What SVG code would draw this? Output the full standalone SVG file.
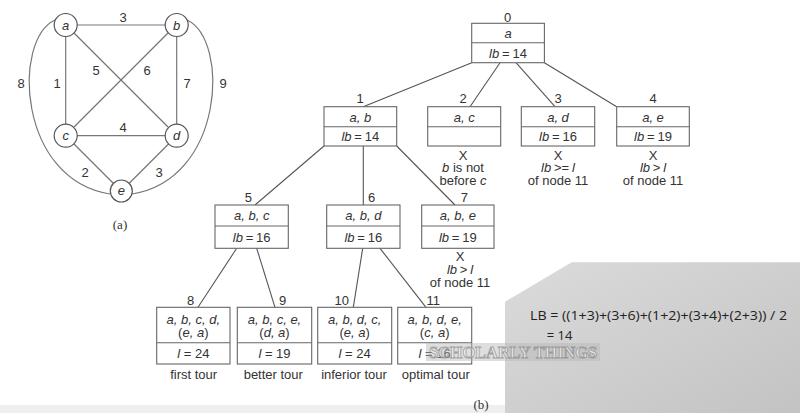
<svg xmlns="http://www.w3.org/2000/svg" width="800" height="413" viewBox="0 0 800 413">
<defs>
<linearGradient id="pg" x1="0" y1="0" x2="1" y2="1">
<stop offset="0" stop-color="#dbdbdb"/>
<stop offset="1" stop-color="#c3c3c3"/>
</linearGradient>
</defs>
<style>
.t{font-family:"Liberation Sans",Arial,sans-serif;font-size:13px;fill:#333;text-anchor:middle}
.i{font-style:italic}
.w{word-spacing:-0.8px}
.e{stroke:#777;stroke-width:1.2;fill:none}
.v{fill:#fff;stroke:#555;stroke-width:1.2}
.b{fill:#fff;stroke:#666;stroke-width:1.1}
.d{stroke:#666;stroke-width:1.1}
.c{stroke:#555;stroke-width:1.1;fill:none}
.s{font-family:"Liberation Serif","Times New Roman",serif;font-size:13px;fill:#333;text-anchor:middle}
</style>
<rect width="800" height="413" fill="#fff"/>
<rect x="0" y="405" width="505" height="8" fill="#efefef"/>
<!-- graph (a) -->
<g id="graph-edges">
<line class="e" x1="77" y1="25" x2="165" y2="25"/>
<line class="e" x1="65.7" y1="36" x2="65.7" y2="125"/>
<line class="e" x1="176.7" y1="36" x2="176.7" y2="125"/>
<line class="e" x1="77" y1="135.7" x2="165" y2="135.7"/>
<line class="e" x1="74" y1="33" x2="168" y2="127"/>
<line class="e" x1="168" y1="33" x2="74" y2="127"/>
<line class="e" x1="73.5" y1="143.5" x2="113.5" y2="183.5"/>
<line class="e" x1="169" y1="143.5" x2="129" y2="183.5"/>
<path class="e" d="M55,20 C12,40 18,180 110,194"/>
<path class="e" d="M187,20 C230,40 224,180 132,194"/>
</g>
<g id="graph-labels">
<text class="t" x="123" y="21.5">3</text>
<text class="t" x="96" y="74.5">5</text>
<text class="t" x="147" y="74.5">6</text>
<text class="t" x="57" y="87.5">1</text>
<text class="t" x="187" y="87.5">7</text>
<text class="t" x="21" y="87.5">8</text>
<text class="t" x="223" y="87.5">9</text>
<text class="t" x="123" y="131.5">4</text>
<text class="t" x="85" y="176.5">2</text>
<text class="t" x="159" y="176.5">3</text>
</g>
<g id="va"><circle class="v" cx="65.7" cy="25" r="11.5"/><text class="t i" x="65.7" y="29.5">a</text></g>
<g id="vb"><circle class="v" cx="176.7" cy="25" r="11.5"/><text class="t i" x="176.7" y="29.5">b</text></g>
<g id="vc"><circle class="v" cx="65.7" cy="135.7" r="11.5"/><text class="t i" x="65.7" y="140">c</text></g>
<g id="vd"><circle class="v" cx="176.7" cy="135.7" r="11.5"/><text class="t i" x="176.7" y="140">d</text></g>
<g id="ve"><circle class="v" cx="121.3" cy="191" r="11"/><text class="t i" x="121.3" y="195">e</text></g>
<text class="s" x="120" y="229">(a)</text>
<!-- tree connectors -->
<g id="tree-connectors">
<line class="c" x1="471.7" y1="62.7" x2="363.3" y2="106.7"/>
<line class="c" x1="500" y1="62.7" x2="470" y2="106.7"/>
<line class="c" x1="516" y1="62.7" x2="555" y2="106.7"/>
<line class="c" x1="544.4" y1="62.7" x2="616.7" y2="106.7"/>
<line class="c" x1="324" y1="146" x2="255" y2="205"/>
<line class="c" x1="363.3" y1="146" x2="363.3" y2="205"/>
<line class="c" x1="396.7" y1="146" x2="455" y2="205"/>
<line class="c" x1="236.7" y1="248.3" x2="198" y2="307.3"/>
<line class="c" x1="256.7" y1="248.3" x2="275" y2="307.3"/>
<line class="c" x1="362.7" y1="248.3" x2="353.3" y2="307.3"/>
<line class="c" x1="380" y1="248.3" x2="426" y2="307.3"/>
</g>
<!-- tree nodes -->
<g id="n0">
<text class="t" x="507.7" y="21.5">0</text>
<rect class="b" x="471.7" y="23.3" width="72.7" height="39.4"/>
<line class="d" x1="471.7" y1="42.7" x2="544.4" y2="42.7"/>
<text class="t i" x="508" y="38">a</text>
<text class="t w" x="508" y="58"><tspan class="i">lb</tspan> = 14</text>
</g>
<g id="n1">
<text class="t" x="360" y="102.5">1</text>
<rect class="b" x="324" y="106.7" width="72.7" height="39.3"/>
<line class="d" x1="324" y1="126.7" x2="396.7" y2="126.7"/>
<text class="t i" x="360.3" y="121.5">a, b</text>
<text class="t w" x="360.3" y="141"><tspan class="i">lb</tspan> = 14</text>
</g>
<g id="n2">
<text class="t" x="463" y="102.5">2</text>
<rect class="b" x="427.7" y="106.7" width="73" height="39.3"/>
<line class="d" x1="427.7" y1="126.7" x2="500.7" y2="126.7"/>
<text class="t i" x="464.2" y="121.5">a, c</text>
<text class="t" x="463" y="159.5">X</text>
<text class="t" x="463" y="172"><tspan class="i">b</tspan> is not</text>
<text class="t" x="463" y="185">before <tspan class="i">c</tspan></text>
</g>
<g id="n3">
<text class="t" x="558" y="102.5">3</text>
<rect class="b" x="521.3" y="106.7" width="73.4" height="39.3"/>
<line class="d" x1="521.3" y1="126.7" x2="594.7" y2="126.7"/>
<text class="t i" x="558" y="121.5">a, d</text>
<text class="t w" x="558" y="141"><tspan class="i">lb</tspan> = 16</text>
<text class="t" x="558" y="159.5">X</text>
<text class="t w" x="558" y="172"><tspan class="i">lb</tspan> &gt;= <tspan class="i">l</tspan></text>
<text class="t" x="558" y="185">of node 11</text>
</g>
<g id="n4">
<text class="t" x="653" y="102.5">4</text>
<rect class="b" x="616.7" y="106.7" width="72.6" height="39.3"/>
<line class="d" x1="616.7" y1="126.7" x2="689.3" y2="126.7"/>
<text class="t i" x="653" y="121.5">a, e</text>
<text class="t w" x="653" y="141"><tspan class="i">lb</tspan> = 19</text>
<text class="t" x="653" y="159.5">X</text>
<text class="t w" x="653" y="172"><tspan class="i">lb</tspan> &gt; <tspan class="i">l</tspan></text>
<text class="t" x="653" y="185">of node 11</text>
</g>
<g id="n5">
<text class="t" x="248.3" y="201.5">5</text>
<rect class="b" x="215" y="205" width="73.3" height="43.3"/>
<line class="d" x1="215" y1="226" x2="288.3" y2="226"/>
<text class="t i" x="251.7" y="220">a, b, c</text>
<text class="t w" x="251.7" y="241.5"><tspan class="i">lb</tspan> = 16</text>
</g>
<g id="n6">
<text class="t" x="371.7" y="201.5">6</text>
<rect class="b" x="326.7" y="205" width="73.3" height="43.3"/>
<line class="d" x1="326.7" y1="226" x2="400" y2="226"/>
<text class="t i" x="363.3" y="220">a, b, d</text>
<text class="t w" x="363.3" y="241.5"><tspan class="i">lb</tspan> = 16</text>
</g>
<g id="n7">
<text class="t" x="464.3" y="201.5">7</text>
<rect class="b" x="421.7" y="205" width="72.3" height="43.3"/>
<line class="d" x1="421.7" y1="226" x2="494" y2="226"/>
<text class="t i" x="457.8" y="220">a, b, e</text>
<text class="t w" x="457.8" y="241.5"><tspan class="i">lb</tspan> = 19</text>
<text class="t" x="460" y="260.5">X</text>
<text class="t w" x="460" y="273.5"><tspan class="i">lb</tspan> &gt; <tspan class="i">l</tspan></text>
<text class="t" x="460" y="286.5">of node 11</text>
</g>
<g id="n8">
<text class="t" x="190.7" y="304.5">8</text>
<rect class="b" x="156.7" y="307.3" width="73.3" height="56.7"/>
<line class="d" x1="156.7" y1="342.7" x2="230" y2="342.7"/>
<text class="t i" x="193.3" y="323.5">a, b, c, d,</text>
<text class="t" x="193.3" y="337">(<tspan class="i">e, a</tspan>)</text>
<text class="t" x="193.3" y="358"><tspan class="i">l</tspan> = 24</text>
<text class="t" x="193.7" y="378.5">first tour</text>
</g>
<g id="n9">
<text class="t" x="282.7" y="304.5">9</text>
<rect class="b" x="237.3" y="307.3" width="74.4" height="56.7"/>
<line class="d" x1="237.3" y1="342.7" x2="311.7" y2="342.7"/>
<text class="t i" x="274.5" y="323.5">a, b, c, e,</text>
<text class="t" x="274.5" y="337">(<tspan class="i">d, a</tspan>)</text>
<text class="t" x="274.5" y="358"><tspan class="i">l</tspan> = 19</text>
<text class="t" x="273.3" y="378.5">better tour</text>
</g>
<g id="n10">
<text class="t" x="341.7" y="304.5">10</text>
<rect class="b" x="317.7" y="307.3" width="74" height="56.7"/>
<line class="d" x1="317.7" y1="342.7" x2="391.7" y2="342.7"/>
<text class="t i" x="354.7" y="323.5">a, b, d, c,</text>
<text class="t" x="354.7" y="337">(<tspan class="i">e, a</tspan>)</text>
<text class="t" x="354.7" y="358"><tspan class="i">l</tspan> = 24</text>
<text class="t" x="354" y="378.5">inferior tour</text>
</g>
<g id="n11">
<text class="t" x="433.3" y="304.5">11</text>
<rect class="b" x="397.7" y="307.3" width="74" height="56.7"/>
<line class="d" x1="397.7" y1="342.7" x2="471.7" y2="342.7"/>
<text class="t i" x="434.7" y="323.5">a, b, d, e,</text>
<text class="t" x="434.7" y="337">(<tspan class="i">c, a</tspan>)</text>
<text class="t" x="434.7" y="358"><tspan class="i">l</tspan> = 16</text>
<text class="t" x="435.8" y="378.5">optimal tour</text>
</g>
<text class="s" x="481" y="409">(b)</text>
<!-- gray panel -->
<g id="panel">
<polygon points="505,301.7 571.7,262.3 800,262.3 800,413 505,413" fill="url(#pg)"/>
<text x="530" y="320" textLength="257" lengthAdjust="spacingAndGlyphs" style="font-family:'Open Sans','Liberation Sans',sans-serif;font-size:13px;fill:#222">LB = ((1+3)+(3+6)+(1+2)+(3+4)+(2+3)) / 2</text>
<text x="546.7" y="340" style="font-family:'Open Sans','Liberation Sans',sans-serif;font-size:13px;fill:#222">= 14</text>
</g>
<g id="watermark">
<rect x="426" y="343" width="174" height="18" fill="#b5b5b5" opacity="0.45"/>
<text x="513" y="358" text-anchor="middle" textLength="168" lengthAdjust="spacingAndGlyphs" opacity="0.7" style="font-family:'Liberation Serif',serif;font-weight:bold;font-size:17px;fill:#f4f4f4;stroke:#8a8a8a;stroke-width:0.9">SCHOLARLY THINGS</text>
</g>
</svg>
